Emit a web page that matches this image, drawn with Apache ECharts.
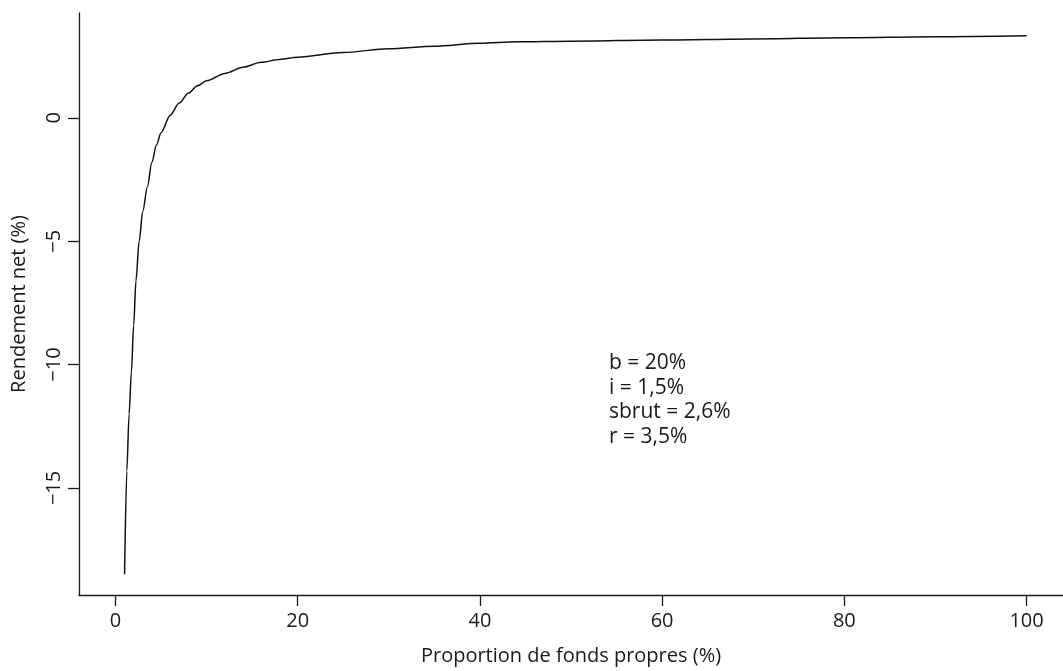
<!DOCTYPE html>
<html>
<head>
<meta charset="utf-8">
<script src="https://cdn.jsdelivr.net/npm/echarts@6/dist/echarts.min.js"></script>
<style>
  html, body { margin: 0; background: #fff; }
  #chart { width: 1063px; height: 671px; }
</style>
</head>
<body>
<div id="chart"></div>
<script>
// proportion de fonds propres (%) -> rendement net (%)
const propFonds = [1, 1.25, 1.5, 1.75, 2, 2.25, 2.6, 3, 3.5, 4, 4.5, 5, 6, 7, 8, 9, 10, 12, 14, 16, 18, 20, 25, 30, 35, 40, 44, 50, 60, 70, 80, 90, 100]
const rendNet = [-18.5, -14.3, -12.0, -10.3, -8.4, -6.6, -5.0, -3.8, -2.8, -1.8, -1.1, -0.6, 0.1, 0.6, 1.0, 1.3, 1.5, 1.8, 2.05, 2.25, 2.37, 2.46, 2.65, 2.8, 2.9, 3.02, 3.08, 3.11, 3.16, 3.2, 3.25, 3.29, 3.33]
const xTicks = [0, 20, 40, 60, 80, 100]
const yTicks = [-15, -10, -5, 0]
const notes = ['b = 20%', 'i = 1,5%', 'sbrut = 2,6%', 'r = 3,5%']

const font = 'Open Sans'
const ink = '#1a1a1a'

let chart = echarts.init(document.getElementById('chart'))
let option = {
  animation: false,
  textStyle: { fontFamily: font },
  grid: { left: 79, top: 13, right: 0, bottom: 75, containLabel: false },
  xAxis: {
    type: 'value',
    min: -4,
    max: 104,
    name: 'Proportion de fonds propres (%)',
    nameLocation: 'middle',
    nameGap: 51,
    nameTextStyle: { fontFamily: font, fontSize: 20, color: ink },
    axisLine: { onZero: false, lineStyle: { color: ink, width: 1.3 } },
    axisTick: { customValues: xTicks, length: 11, lineStyle: { color: ink, width: 1.3 } },
    axisLabel: { customValues: xTicks, margin: 16, fontFamily: font, fontSize: 20, color: ink },
    splitLine: { show: false }
  },
  yAxis: {
    type: 'value',
    min: -19.34,
    max: 4.25,
    name: 'Rendement net (%)',
    nameLocation: 'middle',
    nameGap: 50,
    nameTextStyle: { fontFamily: font, fontSize: 20, color: ink },
    axisLine: { show: true, onZero: false, lineStyle: { color: ink, width: 1.3 } },
    axisTick: { show: true, customValues: yTicks, length: 11, lineStyle: { color: ink, width: 1.3 } },
    axisLabel: {
      customValues: yTicks,
      rotate: 90,
      margin: 15,
      fontFamily: font,
      fontSize: 20,
      color: ink,
      formatter: v => String(v).replace('-', '\u2212')
    },
    splitLine: { show: false }
  },
  series: [
    {
      type: 'line',
      data: propFonds.map((x, k) => [x, rendNet[k]]),
      smooth: 0.3,
      smoothMonotone: 'x',
      showSymbol: false,
      lineStyle: { color: '#111', width: 1.5 }
    }
  ],
  graphic: [
    {
      type: 'text',
      left: 609,
      top: 351,
      style: {
        text: notes.join('\n'),
        font: '21px "Open Sans"',
        lineHeight: 24.5,
        fill: ink
      }
    }
  ]
}
chart.setOption(option)
</script>
</body>
</html>
